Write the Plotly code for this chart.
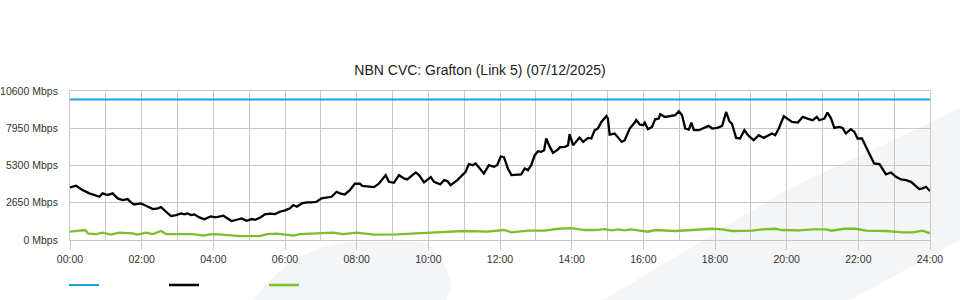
import plotly.graph_objects as go

# ---------------- data ----------------
capacity_hours = [0.0, 24.0]
capacity_mbps = [10000, 10000]

download_hours = [
    0.00, 0.17, 0.35, 0.54, 0.82, 0.91, 1.05, 1.19, 1.33, 1.47, 1.61, 1.70, 1.79, 1.98,
    2.12, 2.31, 2.45, 2.54, 2.68, 2.82, 2.96, 3.10, 3.19, 3.28, 3.38, 3.47, 3.61, 3.75,
    3.84, 3.93, 4.07, 4.28, 4.42, 4.51, 4.65, 4.79, 4.93, 5.07, 5.16, 5.30, 5.44, 5.58,
    5.72, 5.86, 6.00, 6.14, 6.23, 6.33, 6.47, 6.61, 6.75, 6.88, 7.02, 7.16, 7.30, 7.44,
    7.53, 7.67, 7.81, 7.95, 8.09, 8.16, 8.30, 8.48, 8.62, 8.81, 8.90, 9.04, 9.18, 9.32,
    9.41, 9.65, 9.74, 9.88, 10.07, 10.16, 10.33, 10.44, 10.53, 10.62, 10.81, 10.95, 11.04,
    11.13, 11.23, 11.32, 11.41, 11.55, 11.69, 11.83, 11.92, 12.02, 12.11, 12.22, 12.32,
    12.45, 12.59, 12.69, 12.78, 12.87, 12.97, 13.06, 13.15, 13.23, 13.29, 13.39, 13.48,
    13.62, 13.67, 13.81, 13.90, 13.94, 14.04, 14.22, 14.32, 14.46, 14.55, 14.64, 14.73,
    14.83, 14.97, 15.01, 15.06, 15.20, 15.29, 15.40, 15.48, 15.62, 15.76, 15.80, 15.90,
    15.99, 16.04, 16.13, 16.24, 16.33, 16.43, 16.47, 16.61, 16.75, 16.89, 16.99, 17.08,
    17.17, 17.27, 17.34, 17.41, 17.55, 17.68, 17.82, 17.92, 18.06, 18.20, 18.31, 18.40,
    18.47, 18.59, 18.70, 18.82, 18.94, 19.08, 19.22, 19.36, 19.50, 19.59, 19.68, 19.78,
    19.92, 20.01, 20.15, 20.31, 20.45, 20.58, 20.73, 20.84, 20.91, 21.05, 21.14, 21.24,
    21.33, 21.47, 21.56, 21.65, 21.79, 21.89, 21.98, 22.10, 22.21, 22.35, 22.44, 22.59,
    22.77, 22.91, 23.05, 23.19, 23.33, 23.47, 23.58, 23.70, 23.79, 23.89, 24.00,
]
download_mbps = [
    3740, 3860, 3550, 3315, 3075, 3315, 3195, 3315, 2960, 2840, 2910, 2675, 2530, 2600,
    2435, 2200, 2250, 2340, 2010, 1700, 1775, 1895, 1825, 1895, 1775, 1825, 1610, 1470,
    1585, 1680, 1610, 1725, 1490, 1350, 1440, 1540, 1370, 1490, 1440, 1585, 1825, 1870,
    1845, 2010, 2110, 2250, 2485, 2365, 2600, 2675, 2675, 2720, 2960, 3005, 3075, 3430,
    3315, 3245, 3550, 4000, 4000, 3855, 3835, 3760, 4000, 4615, 4140, 4070, 4615, 4380,
    4310, 4805, 4615, 4095, 4475, 4140, 3955, 4260, 4190, 3905, 4260, 4615, 4850,
    5395, 5325, 5445, 5135, 4735, 5325, 5205, 5325, 5940, 5890, 5090, 4615,
    4665, 4665, 5090, 4970, 5325, 6035, 6320, 6270, 6390, 7220, 6625, 6200,
    6440, 6600, 6625, 6745, 7525, 6745, 7290, 6980, 7265, 7220, 7810, 7930,
    8400, 8825, 8640, 7505, 7575, 7335, 6980, 7100, 7930, 8355, 8540, 8215,
    8165, 8350, 7880, 8045, 8590, 8640, 8945, 8755, 8825, 8875, 9160, 8875,
    7930, 7860, 8355, 7810, 7810, 7930, 8115, 7930, 7975, 8115, 9110, 8450,
    8285, 7265, 7220, 7810, 7405, 7100, 7455, 7265, 7455, 7575, 7455, 7930,
    8805, 8640, 8400, 8355, 8755, 8640, 8520, 8755, 8520, 8640, 9065, 8640,
    7975, 8045, 7975, 7575, 7880, 7690, 7220, 7220, 6625, 5915, 5445, 5395,
    4665, 4805, 4495, 4310, 4260, 4140, 3855, 3620, 3670, 3785, 3480,
]

upload_hours = [
    0.00, 0.19, 0.42, 0.51, 0.73, 0.91, 1.14, 1.38, 1.75, 1.89, 2.12, 2.31, 2.54, 2.68,
    3.42, 3.75, 3.89, 4.07, 4.47, 4.74, 5.30, 5.49, 5.77, 6.23, 6.42, 7.35, 7.62, 8.00,
    8.48, 9.13, 9.79, 10.53, 10.81, 11.00, 11.65, 12.02, 12.11, 12.32, 12.78, 13.25,
    13.62, 13.99, 14.36, 14.64, 14.92, 15.11, 15.29, 15.48, 15.66, 15.85, 16.13, 16.33,
    16.89, 17.36, 17.92, 18.20, 18.47, 19.03, 19.31, 19.68, 19.87, 20.35, 20.73, 21.10,
    21.24, 21.61, 21.93, 22.21, 22.77, 23.24, 23.52, 23.79, 24.00,
]
upload_mbps = [
    590, 640, 710, 450, 425, 520, 380, 520, 475, 380, 520, 425, 640, 425,
    425, 310, 400, 425, 310, 280, 280, 425, 450, 310, 425, 520, 425, 520,
    380, 400, 495, 590, 660, 640, 590, 660, 710, 545, 660, 660,
    800, 850, 710, 710, 780, 690, 760, 690, 760, 690, 590, 710,
    640, 710, 800, 760, 640, 660, 760, 800, 710, 690, 760, 760,
    660, 800, 800, 660, 640, 545, 545, 660, 475,
]

y_tickvals = [0, 2650, 5300, 7950, 10600]
y_ticktext = ["0 Mbps", "2650 Mbps", "5300 Mbps", "7950 Mbps", "10600 Mbps"]
x_tickvals = list(range(0, 25, 2))
x_ticktext = [f"{h:02d}:00" for h in x_tickvals]

title_text = "NBN CVC: Grafton (Link 5) (07/12/2025)"

# ---------------- layout constants ----------------
W, H = 960, 300
ML, MR, MT, MB = 70, 30, 91, 60
PW, PH = W - ML - MR, H - MT - MB
GRID = "#c8c8c8"
FONT = "Liberation Sans, Arial, sans-serif"


def px(x, y):
    """pixel -> paper coordinates (decoration only)"""
    return (x - ML) / PW, (H - MB - y) / PH


def path(points_cmds):
    out = []
    for cmd, pts in points_cmds:
        coords = " ".join(f"{px(a, b)[0]:.5f},{px(a, b)[1]:.5f}" for a, b in pts)
        out.append(f"{cmd}{coords}")
    return " ".join(out) + " Z"


fig = go.Figure()
fig.add_trace(go.Scatter(x=capacity_hours, y=capacity_mbps, mode="lines", name=" ",
                         line=dict(color="#1aa3e3", width=2)))
fig.add_trace(go.Scatter(x=download_hours, y=download_mbps, mode="lines", name=" ",
                         line=dict(color="#000000", width=2.3)))
fig.add_trace(go.Scatter(x=upload_hours, y=upload_mbps, mode="lines", name=" ",
                         line=dict(color="#7cbf2a", width=2.3)))

watermark = "#f4f5f7"
shapes = [
    dict(type="path", xref="paper", yref="paper", layer="below", line=dict(width=0),
         fillcolor=watermark,
         path=path([("M", [(603, 300)]), ("L", [(692, 247)]), ("L", [(786, 190)]),
                    ("L", [(936, 120)]), ("L", [(960, 108)]), ("L", [(960, 240)]),
                    ("L", [(850, 300)])])),
    dict(type="path", xref="paper", yref="paper", layer="below", line=dict(width=0),
         fillcolor=watermark,
         path=path([("M", [(253, 300)]), ("C", [(280, 265), (310, 245), (350, 242)]),
                    ("L", [(417, 242)]), ("C", [(430, 242), (440, 250), (452, 285)]),
                    ("L", [(447, 300)])])),
]

fig.update_layout(
    width=W, height=H,
    margin=dict(l=ML, r=MR, t=MT, b=MB, pad=0, autoexpand=False),
    paper_bgcolor="white",
    plot_bgcolor="rgba(0,0,0,0)",
    font=dict(family=FONT, size=10.5, color="#333333"),
    title=dict(text=title_text, x=0.5, xanchor="center", y=1 - 70 / H, yanchor="middle",
               font=dict(family=FONT, size=14, color="#222222")),
    shapes=shapes,
    showlegend=True,
    legend=dict(orientation="h", x=(64 - ML) / PW, xanchor="left",
                y=-(285 - (H - MB)) / PH, yanchor="middle",
                entrywidth=55, entrywidthmode="pixels", itemwidth=30,
                bgcolor="rgba(0,0,0,0)", font=dict(size=11)),
    hovermode=False,
)
fig.update_xaxes(
    range=[0, 24], tickvals=x_tickvals, ticktext=x_ticktext,
    ticks="outside", ticklen=9, tickcolor=GRID, tickwidth=1,
    showgrid=True, gridcolor=GRID, gridwidth=1,
    minor=dict(tickvals=list(range(0, 25)), showgrid=True, gridcolor=GRID, ticks=""),
    showline=True, linecolor=GRID, linewidth=1, mirror=True, zeroline=False,
    automargin=False,
    tickfont=dict(family=FONT, size=10.5, color="#333333"),
)
fig.update_yaxes(
    range=[0, 10600], tickvals=y_tickvals, ticktext=y_ticktext,
    ticks="", ticklabelstandoff=9,
    showgrid=True, gridcolor=GRID, gridwidth=1,
    showline=True, linecolor=GRID, linewidth=1, mirror=True, zeroline=False,
    automargin=False,
    tickfont=dict(family=FONT, size=10.5, color="#333333"),
)

fig.write_html("out.html")
